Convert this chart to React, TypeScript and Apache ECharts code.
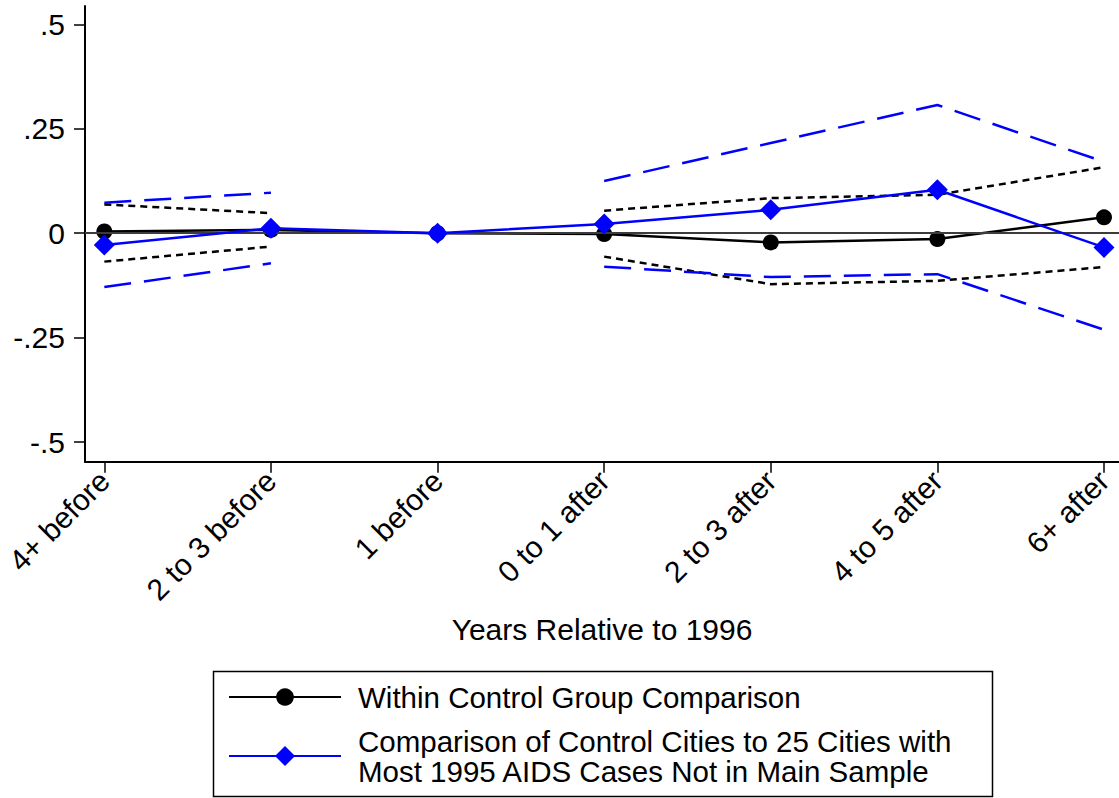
import React, { useEffect, useRef } from "react";
import * as echarts from "echarts";

const categories = ["4+ before", "2 to 3 before", "1 before", "0 to 1 after", "2 to 3 after", "4 to 5 after", "6+ after"];
const yTickValues = [-0.5, -0.25, 0, 0.25, 0.5];
const yTickLabels = ["-.5", "-.25", "0", ".25", ".5"];

const withinName = "Within Control Group Comparison";
const compName = "Comparison of Control Cities to 25 Cities with\nMost 1995 AIDS Cases Not in Main Sample";

const withinEst = [0.004, 0.008, 0, -0.002, -0.022, -0.014, 0.038];
const withinUpper = [0.069, 0.048, null, 0.054, 0.084, 0.092, 0.158];
const withinLower = [-0.068, -0.032, null, -0.056, -0.122, -0.114, -0.081];

const compEst = [-0.028, 0.012, 0, 0.022, 0.056, 0.104, -0.034];
const compUpper = [0.073, 0.097, null, 0.125, 0.216, 0.307, 0.171];
const compLower = [-0.129, -0.072, null, -0.08, -0.105, -0.098, -0.231];

const toXY = (arr: (number | null)[]) => arr.map((v, i) => [i, v === null ? null : v]);

export default function App() {
  const ref = useRef<HTMLDivElement>(null);
  useEffect(() => {
    const chart = echarts.init(ref.current!, null, { renderer: "svg" });
    const font = "'Liberation Sans', Arial, sans-serif";
    const black = "#000000";
    const blue = "#0000ff";
    const legendText = { fontSize: 29.5, color: black, fontFamily: font, lineHeight: 30, padding: [0, 0, 0, 12] };
    const option: any = {
      animation: false,
      backgroundColor: "#ffffff",
      textStyle: { fontFamily: font },
      grid: { left: 85, top: 6, right: 0, bottom: 336.3 },
      xAxis: {
        type: "value",
        min: -0.116,
        max: 6.09,
        name: "Years Relative to 1996",
        nameLocation: "middle",
        nameGap: 153,
        nameTextStyle: { fontSize: 30, color: black, fontFamily: font },
        axisLine: { show: true, onZero: false, lineStyle: { color: black, width: 2 } },
        axisTick: { show: true, length: 11, customValues: categories.map((_, i) => i), lineStyle: { color: black, width: 1.5 } },
        axisLabel: {
          customValues: categories.map((_, i) => i),
          rotate: 45,
          margin: 14,
          fontSize: 30,
          color: black,
          fontFamily: font,
          formatter: (v: number) => categories[Math.round(v)] ?? "",
        },
        splitLine: { show: false },
      },
      yAxis: {
        type: "value",
        min: -0.547,
        max: 0.544,
        axisLine: { show: true, onZero: false, lineStyle: { color: black, width: 2 } },
        axisTick: { show: true, length: 11, customValues: yTickValues, lineStyle: { color: black, width: 1.5 } },
        axisLabel: {
          customValues: yTickValues,
          margin: 20,
          fontSize: 30,
          color: black,
          fontFamily: font,
          formatter: (v: number) => {
            const idx = yTickValues.findIndex((t) => Math.abs(t - v) < 1e-6);
            return idx >= 0 ? yTickLabels[idx] : "";
          },
        },
        splitLine: { show: false },
      },
      legend: [
        {
          data: [withinName],
          orient: "vertical",
          left: 228,
          top: 682,
          padding: 0,
          itemWidth: 112,
          itemHeight: 22,
          selectedMode: false,
          textStyle: legendText,
        },
        {
          data: [compName],
          orient: "vertical",
          left: 228,
          top: 726,
          padding: 0,
          itemWidth: 112,
          itemHeight: 25,
          selectedMode: false,
          textStyle: legendText,
        },
      ],
      graphic: [
        {
          type: "rect",
          shape: { x: 213.5, y: 671.5, width: 779, height: 125 },
          style: { fill: "none", stroke: black, lineWidth: 1.5 },
          silent: true,
        },
      ],
      series: [
        {
          name: "within_upper",
          type: "line",
          data: toXY(withinUpper),
          symbol: "none",
          connectNulls: false,
          lineStyle: { color: black, width: 2.5, type: [7, 5] },
          silent: true,
          z: 2,
          markLine: {
            silent: true,
            symbol: "none",
            label: { show: false },
            lineStyle: { color: "#3c3c3c", width: 2, type: "solid" },
            data: [{ yAxis: 0 }],
          },
        },
        {
          name: "within_lower",
          type: "line",
          data: toXY(withinLower),
          symbol: "none",
          connectNulls: false,
          lineStyle: { color: black, width: 2.5, type: [7, 5] },
          silent: true,
          z: 2,
        },
        {
          name: "comp_upper",
          type: "line",
          data: toXY(compUpper),
          symbol: "none",
          connectNulls: false,
          lineStyle: { color: blue, width: 2.5, type: [27, 13] },
          silent: true,
          z: 3,
        },
        {
          name: "comp_lower",
          type: "line",
          data: toXY(compLower),
          symbol: "none",
          connectNulls: false,
          lineStyle: { color: blue, width: 2.5, type: [27, 13] },
          silent: true,
          z: 3,
        },
        {
          name: withinName,
          type: "line",
          data: toXY(withinEst),
          symbol: "circle",
          symbolSize: 16,
          itemStyle: { color: black },
          lineStyle: { color: black, width: 2.5 },
          z: 4,
        },
        {
          name: compName,
          type: "line",
          data: toXY(compEst),
          symbol: "diamond",
          symbolSize: 21,
          itemStyle: { color: blue },
          lineStyle: { color: blue, width: 2.5 },
          z: 5,
        },
      ],
    };
    chart.setOption(option);
    return () => chart.dispose();
  }, []);
  return (
    <div
      ref={ref}
      style={{ position: "absolute", left: 0, top: 0, width: 1119, height: 798, background: "#fff" }}
    />
  );
}
